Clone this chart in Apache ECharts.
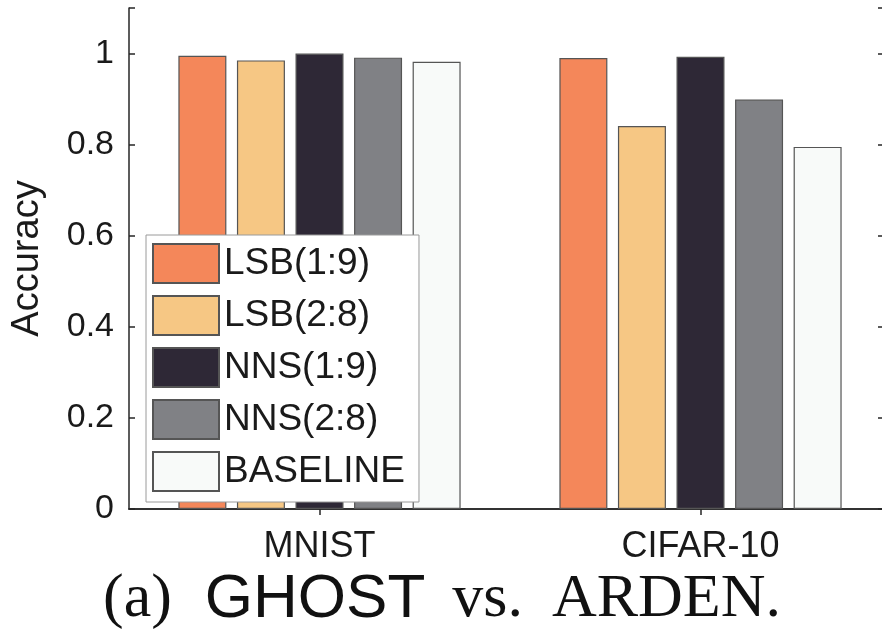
<!DOCTYPE html>
<html>
<head>
<meta charset="utf-8">
<script src="https://cdn.jsdelivr.net/npm/echarts@6/dist/echarts.min.js"></script>
<style>html,body{margin:0;padding:0;background:#fff;overflow:hidden;width:882px;height:633px;}#c{width:895px;height:633px;}</style>
</head>
<body>
<div id="c"></div>
<script>
const categories = ['MNIST', 'CIFAR-10'];
const seriesNames = ['LSB(1:9)', 'LSB(2:8)', 'NNS(1:9)', 'NNS(2:8)', 'BASELINE'];
const lsb19 = [0.995, 0.990];
const lsb28 = [0.985, 0.841];
const nns19 = [1.000, 0.993];
const nns28 = [0.991, 0.899];
const baseline = [0.982, 0.795];
const yTicks = [0, 0.2, 0.4, 0.6, 0.8, 1];
const colors = ['#F4875A', '#F6C784', '#2E2836', '#808185', '#F8FAF9'];

const allValues = [lsb19, lsb28, nns19, nns28, baseline];
const FONT = 'Liberation Sans, Arial, Helvetica, sans-serif';
const SERIF = 'Liberation Serif, Times New Roman, serif';
const axisColor = '#262626';

const chart = echarts.init(document.getElementById('c'), null, {renderer: 'canvas'});
chart.setOption({
  animation: false,
  backgroundColor: '#ffffff',
  title: {
    left: 98,
    top: 560,
    text: '{s|(a)}{g|GHOST}{v|vs.}{r|ARDEN.}',
    textStyle: {
      fontWeight: 'normal',
      rich: {
        s: {fontFamily: SERIF, fontSize: 62, fontWeight: 'normal', color: '#111', lineHeight: 70},
        g: {fontFamily: FONT, fontSize: 62, fontWeight: 'normal', color: '#111', padding: [0, 0, 0, 33], lineHeight: 70},
        v: {fontFamily: SERIF, fontSize: 62, fontWeight: 'normal', color: '#111', padding: [0, 0, 0, 27], lineHeight: 70},
        r: {fontFamily: SERIF, fontSize: 62, fontWeight: 'normal', color: '#111', padding: [0, 0, 0, 29], lineHeight: 70}
      }
    }
  },
  legend: {
    orient: 'vertical',
    left: 146,
    top: 235,
    itemWidth: 66,
    itemHeight: 39,
    itemGap: 11,
    padding: [8, 14, 10, 6],
    borderColor: '#9a9a9a',
    borderWidth: 1,
    borderRadius: 0,
    backgroundColor: '#ffffff',
    icon: 'rect',
    textStyle: {fontFamily: FONT, fontSize: 37, color: '#1a1a1a'},
    data: seriesNames
  },
  grid: {left: 129, top: 8, bottom: 124, width: 762, containLabel: false},
  xAxis: [{
    type: 'category',
    data: categories,
    position: 'bottom',
    axisLine: {show: true, lineStyle: {color: axisColor, width: 1.5}},
    axisTick: {show: true, inside: true, length: 6, alignWithLabel: true, lineStyle: {color: axisColor, width: 1.5}},
    axisLabel: {fontFamily: FONT, fontSize: 36, color: '#1a1a1a', margin: 20},
    splitLine: {show: false}
  }, {
    type: 'category',
    data: categories,
    position: 'top',
    axisLine: {show: true, lineStyle: {color: axisColor, width: 1.5}},
    axisTick: {show: true, inside: true, length: 6, alignWithLabel: true, lineStyle: {color: axisColor, width: 1.5}},
    axisLabel: {show: false},
    splitLine: {show: false}
  }],
  yAxis: [{
    type: 'value',
    min: 0,
    max: 1.1,
    interval: 0.2,
    position: 'left',
    name: 'Accuracy',
    nameLocation: 'middle',
    nameGap: 82,
    nameRotate: 90,
    nameTextStyle: {fontFamily: FONT, fontSize: 38, color: '#1a1a1a'},
    axisLine: {show: true, lineStyle: {color: axisColor, width: 1.5}},
    axisTick: {show: true, inside: true, length: 6, lineStyle: {color: axisColor, width: 1.5}},
    axisLabel: {
      fontFamily: FONT, fontSize: 34, color: '#1a1a1a', margin: 15,
      formatter: function (v) {
        const t = yTicks.find(function (k) { return Math.abs(k - v) < 1e-6; });
        return t === undefined ? '' : String(t);
      }
    },
    splitLine: {show: false}
  }, {
    type: 'value',
    min: 0,
    max: 1.1,
    interval: 0.2,
    position: 'right',
    offset: -7,
    axisLine: {show: true, lineStyle: {color: axisColor, width: 1.5}},
    axisTick: {show: true, inside: true, length: 6, lineStyle: {color: axisColor, width: 1.5}},
    axisLabel: {show: false},
    splitLine: {show: false}
  }],
  series: seriesNames.map(function (name, i) {
    return {
      name: name,
      type: 'bar',
      xAxisIndex: 0,
      yAxisIndex: 0,
      barWidth: 48,
      barGap: '22%',
      data: allValues[i],
      itemStyle: {color: colors[i], borderColor: '#555555', borderWidth: 1.2}
    };
  })
});
</script>
</body>
</html>
